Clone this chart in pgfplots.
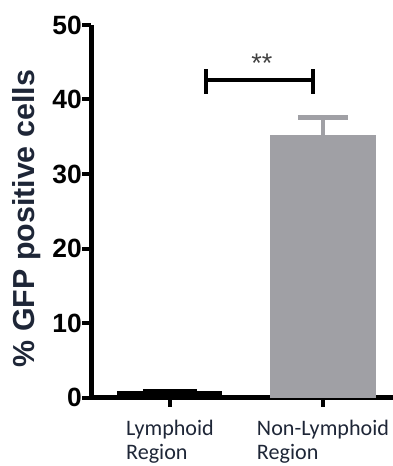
\documentclass[border=0pt]{standalone}
\usepackage{pgfplots}
\pgfplotsset{compat=1.18}
\usepackage{fontspec}
\setmainfont{Liberation Sans}
\newfontfamily\calib{Carlito}
\definecolor{barGray}{RGB}{160,160,165}
\definecolor{labelCol}{RGB}{30,38,55}
\begin{document}
\begin{tikzpicture}
\useasboundingbox (-91.5bp,-68.5bp) rectangle (301.5bp,397.5bp);
\begin{axis}[
  at={(0,0)}, anchor=south west,
  scale only axis, width=308bp, height=372.5bp,
  xmin=-0.513, xmax=1.5, ymin=0, ymax=50,
  clip=false,
  axis lines=left,
  axis line style={-, line width=5bp, black},
  tick style={line width=4bp, black},
  major tick length=9bp, tick align=outside,
  ytick={0,10,20,30,40,50},
  /pgf/number format/assume math mode=true,
  yticklabel style={font=\bfseries\fontsize{26.5}{26.5}\selectfont, inner sep=0.5bp, text=black},
  xtick={0,1},
  xticklabels={{Lymphoid\\Region},{Non-Lymphoid\\Region}},
  xticklabel style={align=left, font=\calib\fontsize{22.2}{25}\selectfont, text=labelCol, anchor=north, inner sep=0pt, yshift=-13bp},
]
\addplot[ybar, bar width=104bp, bar shift=0pt, fill=black, draw=black, line width=1bp,
  error bars/.cd, y dir=plus, y explicit,
  error bar style={line width=3bp, black},
  error mark options={rotate=90, mark size=27bp, line width=3bp, black}]
  coordinates {(0,0.75) +- (0,0.25)};
\addplot[ybar, bar width=105bp, bar shift=0pt, fill=barGray, draw=none,
  error bars/.cd, y dir=plus, y explicit,
  error bar style={line width=4bp, barGray},
  error mark options={rotate=90, mark size=25bp, line width=4.5bp, barGray}]
  coordinates {(1,35.2) +- (0,2.4)};
% significance bracket
\addplot[black, line width=4.5bp, no marks] coordinates {(0.235,42.6) (0.935,42.6)};
\addplot[black, line width=4.5bp, no marks] coordinates {(0.235,40.8) (0.235,44.1)};
\addplot[black, line width=4.5bp, no marks] coordinates {(0.935,40.8) (0.935,44.1)};
\node[anchor=base, font=\fontsize{27}{27}\selectfont, text=darkgray] at (axis cs:0.6,43.6) {**};
\node[rotate=90, anchor=base, font=\bfseries\fontsize{30.5}{30.5}\selectfont, text=labelCol]
  at ([xshift=-57bp]axis cs:-0.513,24.0) {\% GFP positive cells};
\end{axis}
\end{tikzpicture}
\end{document}
